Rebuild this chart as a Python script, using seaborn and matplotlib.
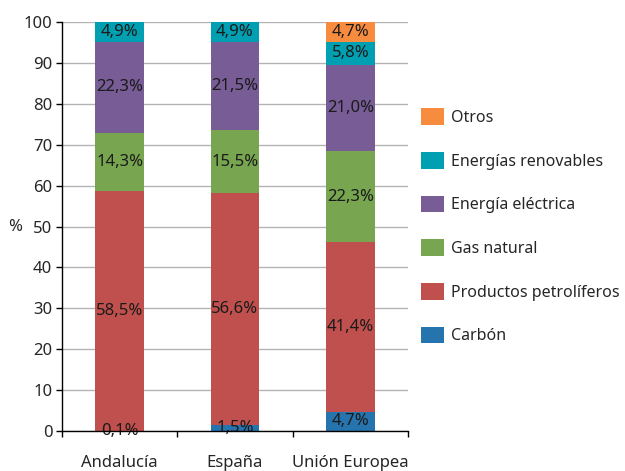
import numpy as np
import pandas as pd
import seaborn as sns
import matplotlib.pyplot as plt
from matplotlib.patches import Patch

# data
regiones = ['Andalucía', 'España', 'Unión Europea']
fuentes = ['Carbón', 'Productos petrolíferos', 'Gas natural',
           'Energía eléctrica', 'Energías renovables', 'Otros']
carbon = [0.1, 1.5, 4.7]
petroleo = [58.5, 56.6, 41.4]
gas = [14.3, 15.5, 22.3]
electrica = [22.3, 21.5, 21.0]
renovables = [4.9, 4.9, 5.8]
otros = [0.0, 0.0, 4.7]
colores = ['#2674AD', '#C0504D', '#78A550', '#775C95', '#00A0B2', '#F78B3E']

valores = np.array([carbon, petroleo, gas, electrica, renovables, otros])
acumulado = valores.cumsum(axis=0)

sns.set_style('white')
plt.rcParams['font.family'] = ['Noto Sans', 'DejaVu Sans']
fs = 12

fig = plt.figure(figsize=(6.25, 4.71), dpi=100)
ax = fig.add_axes([0.0992, 0.0849, 0.5536, 0.8684])

# stacked bars: draw cumulative totals from the top layer down
for i in range(len(fuentes) - 1, -1, -1):
    df = pd.DataFrame({'region': regiones, 'valor': acumulado[i]})
    sns.barplot(data=df, x='region', y='valor', color=colores[i],
                width=0.42, saturation=1, linewidth=0, ax=ax, zorder=3)

# data labels
for i in range(len(fuentes)):
    for j in range(len(regiones)):
        v = valores[i, j]
        if v <= 0:
            continue
        centro = acumulado[i, j] - v / 2
        ax.text(j, centro, f'{v:.1f}'.replace('.', ',') + '%', ha='center', va='center',
                fontsize=fs, color='#1a1a1a', zorder=5)

ax.set_ylim(0, 100)
ax.set_xlim(-0.5, 2.5)
ax.set_yticks(range(0, 101, 10))
ax.yaxis.grid(True, color='#B3B3B3', linewidth=1, zorder=0)
ax.set_axisbelow(True)
ax.tick_params(axis='y', left=True, length=4, width=1, pad=3, labelsize=fs, color='black')
ax.tick_params(axis='x', which='major', length=0, pad=17, labelsize=fs)
ax.set_xticks([-0.5, 0.5, 1.5, 2.5], minor=True)
ax.tick_params(axis='x', which='minor', bottom=True, length=4, width=1, color='black')
ax.set_xlabel('')
ax.set_ylabel('%', rotation=0, fontsize=fs, va='center')
ax.yaxis.set_label_coords(-0.135, 0.5)

for s in ['top', 'right']:
    ax.spines[s].set_visible(False)
for s in ['left', 'bottom']:
    ax.spines[s].set_color('black')
    ax.spines[s].set_linewidth(1)
    ax.spines[s].set_zorder(6)

handles = [Patch(facecolor=colores[i], edgecolor='none', label=fuentes[i])
           for i in range(len(fuentes) - 1, -1, -1)]
fig.legend(handles=handles, loc='upper left', bbox_to_anchor=(0.663, 0.784),
           frameon=False, fontsize=11.5, handlelength=1.45, handleheight=1.25,
           handletextpad=0.45, labelspacing=1.62, borderaxespad=0)

fig.savefig('out.png', dpi=100)
